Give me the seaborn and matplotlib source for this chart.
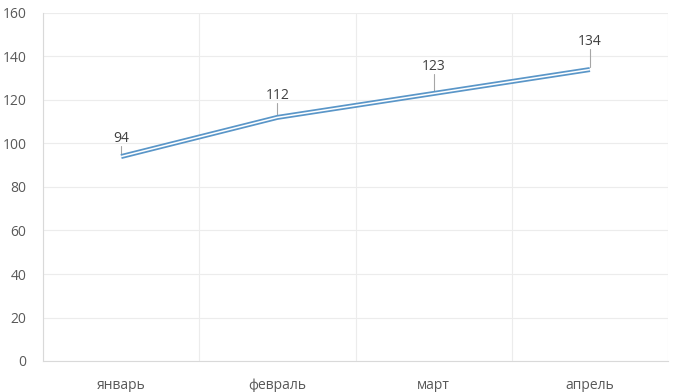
import numpy as np
import pandas as pd
import matplotlib
matplotlib.use("Agg")
import matplotlib.pyplot as plt
import seaborn as sns

months = ["январь", "февраль", "март", "апрель"]
values = [94, 112, 123, 134]
label_lift = [8.5, 10, 12.6, 13]  # how far each data label sits above its point

sns.set_theme(style="white")
plt.rcParams["font.family"] = ["Open Sans", "DejaVu Sans"]

line_color = "#5A96C8"
grid_color = "#ECECEC"
text_color = "#595959"

df = pd.DataFrame({"month": months, "value": values})

fig = plt.figure(figsize=(6.77, 3.92), dpi=100)
ax = fig.add_axes([43 / 677, 31 / 392, 625 / 677, 348 / 392])

# compound line: thick blue with a thin white core
sns.lineplot(data=df, x="month", y="value", ax=ax, color=line_color, lw=3.6,
             sort=False, solid_capstyle="butt")
sns.lineplot(data=df, x="month", y="value", ax=ax, color="white", lw=1.1,
             sort=False, solid_capstyle="butt")

x = np.arange(len(months))
for xi, v, lift in zip(x, values, label_lift):
    ax.plot([xi, xi], [v + 1, v + lift - 3.5], color="#A6A6A6", lw=0.8, zorder=1)
    ax.text(xi, v + lift, str(v), ha="center", va="center", fontsize=10, color="#404040")

ax.set_xlim(-0.5, len(months) - 0.5)
ax.set_ylim(0, 160)
ax.set_yticks(range(0, 161, 20))
ax.set_xticks(x)
ax.set_xticklabels(months)
ax.set_xticks(np.arange(-0.5, len(months)), minor=True)

ax.grid(axis="y", which="major", color=grid_color, lw=0.8)
ax.grid(axis="x", which="minor", color=grid_color, lw=0.8)
ax.grid(axis="x", which="major", visible=False)
ax.set_axisbelow(True)

for side in ["top", "right"]:
    ax.spines[side].set_visible(False)
for side in ["left", "bottom"]:
    ax.spines[side].set_color("#D9D9D9")
    ax.spines[side].set_linewidth(0.8)

ax.tick_params(axis="both", which="both", length=0, labelsize=10, colors=text_color)
ax.tick_params(axis="x", pad=12)
ax.tick_params(axis="y", pad=12)
ax.set_xlabel("")
ax.set_ylabel("")

fig.savefig("out.png", dpi=100, facecolor="white")
